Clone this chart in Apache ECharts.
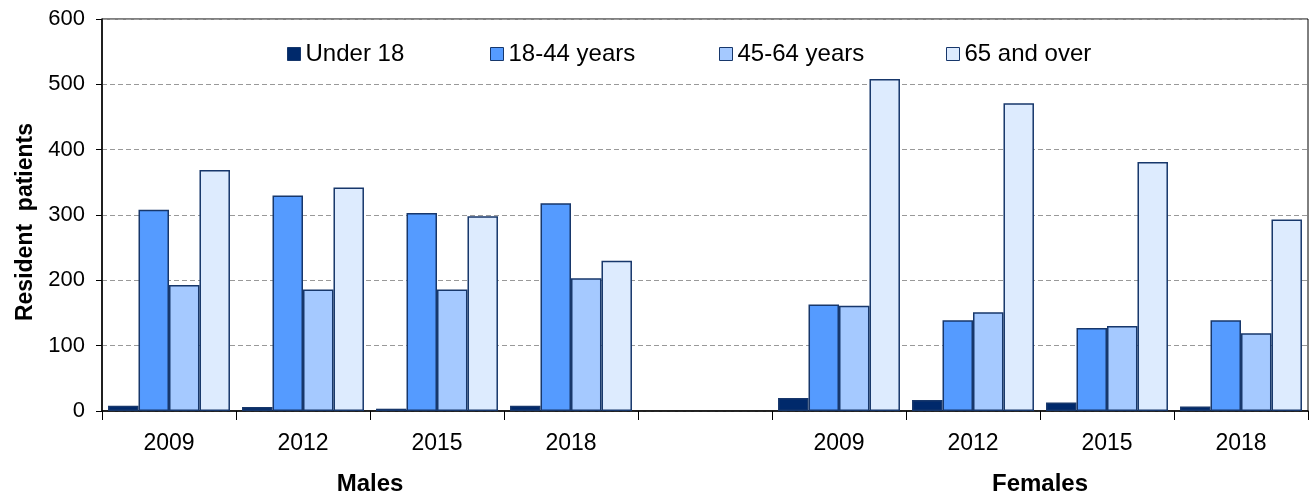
<!DOCTYPE html>
<html>
<head>
<meta charset="utf-8">
<script src="https://cdn.jsdelivr.net/npm/echarts@6/dist/echarts.min.js"></script>
<style>
html,body{margin:0;padding:0;background:#fff;}
#chart{width:1315px;height:499px;}
</style>
</head>
<body>
<div id="chart"></div>
<script>
const categories = ['2009','2012','2015','2018','','2009','2012','2015','2018'];
const groupLabels = ['Males','Females'];
const seriesNames = ['Under 18','18-44 years','45-64 years','65 and over'];
const under18 = [8, 6, 3.5, 8, null, 20, 17, 13, 7];
const age18to44 = [308, 330, 303, 318, null, 163, 139, 127, 139];
const age45to64 = [193, 186, 186, 203, null, 161, 151, 130, 119];
const age65plus = [369, 342, 298, 230, null, 508, 471, 381, 293];
const yTicks = [0, 100, 200, 300, 400, 500, 600];

const colors = ['#00296B', '#559BFF', '#A5C9FF', '#DDEBFE'];
const border = '#17376B';
const font = 'Liberation Sans, Arial, sans-serif';

const chart = echarts.init(document.getElementById('chart'));
const values = [under18, age18to44, age45to64, age65plus];
const legendLefts = [282, 485, 714, 941];

const option = {
  animation: false,
  backgroundColor: '#fff',
  grid: { left: 102, right: 7, top: 19, bottom: 88, show: true, borderColor: '#000', borderWidth: 1, backgroundColor: 'transparent' },
  legend: seriesNames.map((n, i) => ({
    data: [n], left: legendLefts[i], top: 37, itemWidth: 13, itemHeight: 13, itemGap: 5,
    icon: 'rect',
    textStyle: { fontFamily: font, fontSize: 24, color: '#000' },
    itemStyle: { borderColor: border, borderWidth: 1 }
  })),
  xAxis: {
    type: 'category', data: categories,
    axisLine: { lineStyle: { color: '#000', width: 1.5 } },
    axisTick: { show: true, interval: 0, length: 9, lineStyle: { color: '#000' } },
    axisLabel: { interval: 0, fontFamily: font, fontSize: 23, color: '#000', margin: 21 }
  },
  yAxis: {
    type: 'value', min: yTicks[0], max: yTicks[yTicks.length - 1], interval: 100,
    name: 'Resident  patients', nameLocation: 'middle', nameGap: 65, nameRotate: 90,
    nameTextStyle: { fontFamily: font, fontSize: 23, fontWeight: 'bold', color: '#000', padding: [0, 14, 0, 0] },
    axisLine: { show: true, lineStyle: { color: '#000', width: 1.5 } },
    axisTick: { show: true, length: 6, lineStyle: { color: '#000' } },
    axisLabel: { fontFamily: font, fontSize: 22, color: '#000', margin: 17 },
    splitLine: { show: true, lineStyle: { color: '#999', type: [5, 3], width: 1 } }
  },
  series: seriesNames.map((n, i) => ({
    name: n, type: 'bar', data: values[i],
    barGap: '0%', barCategoryGap: '9%',
    itemStyle: { color: colors[i], borderColor: border, borderWidth: 1.5 }
  }))
};
chart.setOption(option);

const px = i => chart.convertToPixel({ xAxisIndex: 0 }, i);
const maleCenter = (px(0) + px(3)) / 2;
const femaleCenter = (px(5) + px(8)) / 2;
chart.setOption({
  graphic: [
    { type: 'text', x: maleCenter, y: 484, style: { text: groupLabels[0], font: 'bold 24px ' + font, fill: '#000', align: 'center', verticalAlign: 'middle' } },
    { type: 'text', x: femaleCenter, y: 484, style: { text: groupLabels[1], font: 'bold 24px ' + font, fill: '#000', align: 'center', verticalAlign: 'middle' } }
  ]
});
</script>
</body>
</html>
